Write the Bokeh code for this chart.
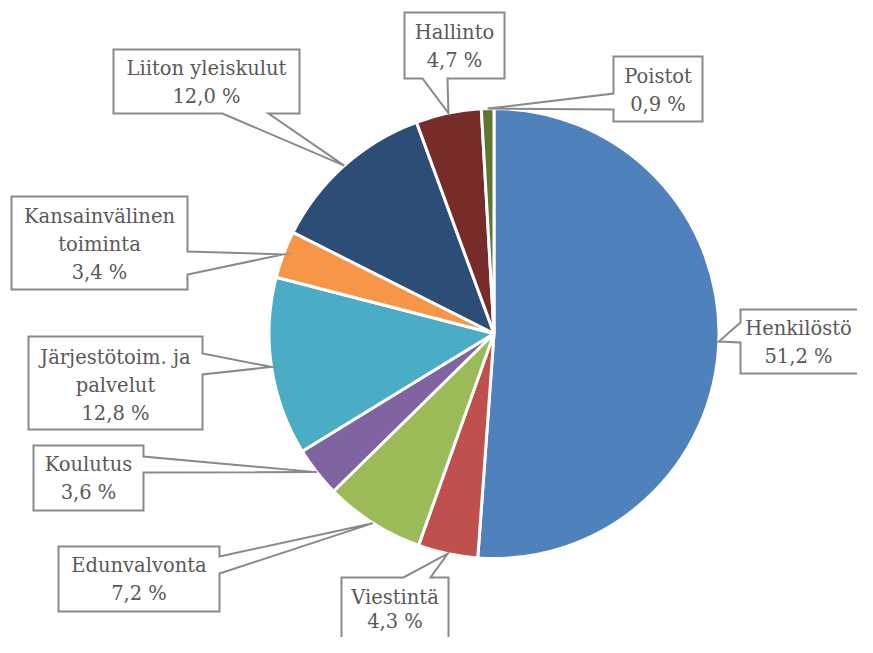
import math
from bokeh.plotting import figure
from bokeh.models import Range1d, ColumnDataSource
from bokeh.core.properties import value
from bokeh.embed import file_html
from bokeh.resources import INLINE

# ---- data ----
categories = ["Henkilöstö", "Viestintä", "Edunvalvonta", "Koulutus",
              "Järjestötoim. ja palvelut", "Kansainvälinen toiminta",
              "Liiton yleiskulut", "Hallinto", "Poistot"]
label_lines = [["Henkilöstö"], ["Viestintä"], ["Edunvalvonta"], ["Koulutus"],
               ["Järjestötoim. ja", "palvelut"], ["Kansainvälinen", "toiminta"],
               ["Liiton yleiskulut"], ["Hallinto"], ["Poistot"]]
shares = [51.2, 4.3, 7.2, 3.6, 12.8, 3.4, 12.0, 4.7, 0.9]
colors = ["#4F81BD", "#C0504D", "#9BBB59", "#8064A2", "#4BACC6",
          "#F79646", "#2C4D75", "#772C2A", "#5F7530"]

# ---- layout (frame pixel coordinates, y downwards) ----
W, H = 857, 637
CX, CY, R = 493.5, 333.0, 225.0
FONT = "DejaVu Serif"
FS = "19.5px"

# callout boxes: (left, top, right, bottom), side, base pair, text center x, first line y, line gap
callouts = [
    ((740, 309, 870, 373), "left", (322, 342), 798, 328, 28),
    ((341, 577, 448, 650), "top", (403, 430), 394.5, 597, 24),
    ((58, 546, 219, 611), "right", (556, 573), 138.5, 565, 28),
    ((33, 445, 143, 510), "right", (456, 472), 88, 464, 28),
    ((28, 336, 202, 429), "right", (353, 374), 115, 357, 28),
    ((11, 196, 187, 289), "right", (251, 274), 99, 216, 28),
    ((113, 49, 299, 113), "bottom", (222, 268), 206, 68, 28),
    ((404, 12, 504, 78), "bottom", (422, 447), 454, 32, 28),
    ((613, 56, 702, 121), "left", (93, 109), 657.5, 76, 28),
]


def fy(py):
    return H - py


p = figure(width=W, height=H, output_backend="svg", toolbar_location=None,
           x_range=Range1d(0, W), y_range=Range1d(0, H),
           min_border=0, background_fill_color="white", border_fill_color="white")
p.outline_line_color = None
p.xgrid.visible = False
p.ygrid.visible = False
p.xaxis.visible = False
p.yaxis.visible = False

total = sum(shares)
starts, ends, mids = [], [], []
cum = 0.0
for s in shares:
    a0 = cum / total
    cum += s
    a1 = cum / total
    starts.append(math.pi / 2 - 2 * math.pi * a1)
    ends.append(math.pi / 2 - 2 * math.pi * a0)
    mids.append((a0 + a1) / 2)

src = ColumnDataSource(dict(x=[CX] * len(shares), y=[fy(CY)] * len(shares),
                            start=starts, end=ends, color=colors))
p.wedge(x="x", y="y", radius=R, start_angle="start", end_angle="end",
        fill_color="color", line_color="white", line_width=3, source=src)

xs_poly, ys_poly = [], []
tx, ty, tt = [], [], []
for i, (box, side, base, tcx, ty0, gap) in enumerate(callouts):
    l, t, r, b = box
    ang = 2 * math.pi * mids[i]
    tipx = CX + R * math.sin(ang)
    tipy = CY - R * math.cos(ang)
    pts = [(l, t)]
    if side == "top":
        pts += [(base[0], t), (tipx, tipy), (base[1], t)]
    pts.append((r, t))
    if side == "right":
        pts += [(r, base[0]), (tipx, tipy), (r, base[1])]
    pts.append((r, b))
    if side == "bottom":
        pts += [(base[1], b), (tipx, tipy), (base[0], b)]
    pts.append((l, b))
    if side == "left":
        pts += [(l, base[1]), (tipx, tipy), (l, base[0])]
    xs_poly.append([q[0] for q in pts])
    ys_poly.append([fy(q[1]) for q in pts])
    lines = label_lines[i] + [f"{shares[i]:.1f}".replace(".", ",") + " %"]
    for k, ln in enumerate(lines):
        tx.append(tcx)
        ty.append(fy(ty0 + k * gap))
        tt.append(ln)

p.patches(xs_poly, ys_poly, fill_color="white", line_color="#898989", line_width=2,
          line_join="miter")
p.text(x=tx, y=ty, text=tt, text_align="center", text_baseline="middle",
       text_font=value(FONT), text_font_size=FS, text_color="#595959")

open("out.html", "w").write(file_html(p, INLINE))
